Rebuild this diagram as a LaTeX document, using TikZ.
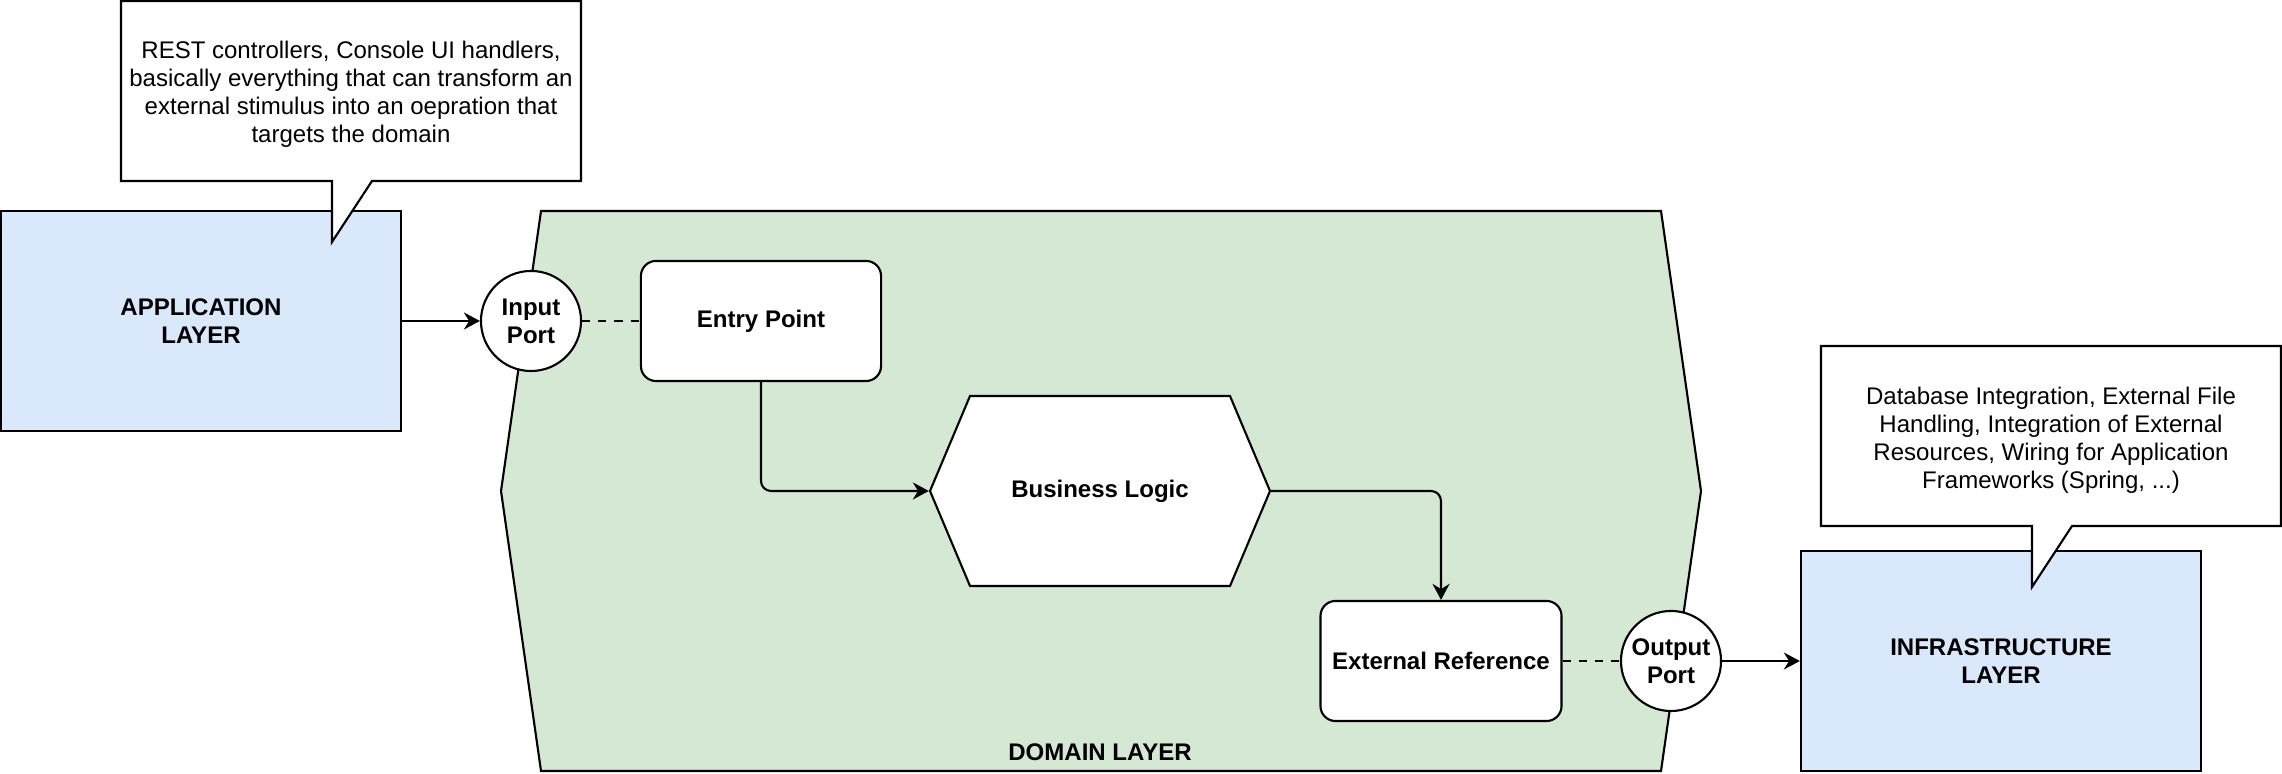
\documentclass[tikz,border=0pt]{standalone}
\usepackage{fontspec}
\setmainfont{Liberation Sans}
\usepackage{tikz}
\usetikzlibrary{arrows.meta}
\definecolor{layerblue}{HTML}{DAE8FC}
\definecolor{domaingreen}{HTML}{D5E8D4}
\newcommand{\diagfont}{\fontsize{6.83pt}{7.97pt}\selectfont}

\begin{document}
\begin{tikzpicture}[x=0.01cm,y=-0.01cm,line width=0.6pt,
  every node/.style={font=\diagfont,align=center},
  layerbox/.style={draw,fill=layerblue,minimum width=4cm,minimum height=2.2cm,font=\diagfont\bfseries},
  portnode/.style={circle,draw,fill=white,minimum size=1cm,inner sep=0pt,font=\diagfont\bfseries},
  stepbox/.style={draw,fill=white,rounded corners=0.15cm,minimum width=2.4cm,minimum height=1.2cm,font=\diagfont\bfseries},
  flow/.style={-{Stealth[length=0.16cm,width=0.17cm]},rounded corners=0.1cm},
  link/.style={dash pattern=on 2.3pt off 2.3pt}]
\useasboundingbox (0,0) rectangle (2282,774);
% domain layer
\draw[fill=domaingreen] (541,211) -- (1661,211) -- (1701,491) -- (1661,771) -- (541,771) -- (501,491) -- cycle;
\node[font=\diagfont\bfseries] (domainlbl) at (1100,752) {DOMAIN LAYER};
\draw[fill=white] (970,396) -- (1230,396) -- (1270,491) -- (1230,586) -- (970,586) -- (930,491) -- cycle;
% nodes
\node[layerbox] (app) at (201,321) {APPLICATION\\LAYER};
\node[portnode] (inport) at (531,321) {Input\\Port};
\node[stepbox] (entry) at (761,321) {Entry Point};
\node[minimum width=3.4cm,minimum height=1.9cm,font=\diagfont\bfseries] (logic) at (1100,491) {Business Logic};
\node[stepbox] (ext) at (1441,661) {External Reference};
\node[portnode] (outport) at (1671,661) {Output\\Port};
\node[layerbox] (infra) at (2001,661) {INFRASTRUCTURE\\LAYER};
% connectors
\draw[flow] (app.east) -- (inport.west);
\draw[link] (inport.east) -- (entry.west);
\draw[flow] (entry.south) |- (logic.west);
\draw[flow] (logic.east) -| (ext.north);
\draw[link] (ext.east) -- (outport.west);
\draw[flow] (outport.east) -- (infra.west);
% callouts
\draw[fill=white] (121,1) -- (581,1) -- (581,181) -- (372,181) -- (332,242) -- (332,181) -- (121,181) -- cycle;
\node (restnote) at (351,94) {REST controllers, Console UI handlers,\\basically everything that can transform an\\external stimulus into an oepration that\\targets the domain};
\draw[fill=white] (1821,346) -- (2281,346) -- (2281,526) -- (2072,526) -- (2032,587) -- (2032,526) -- (1821,526) -- cycle;
\node (infranote) at (2051,440) {Database Integration, External File\\Handling, Integration of External\\Resources, Wiring for Application\\Frameworks (Spring, ...)};
\end{tikzpicture}
\end{document}
